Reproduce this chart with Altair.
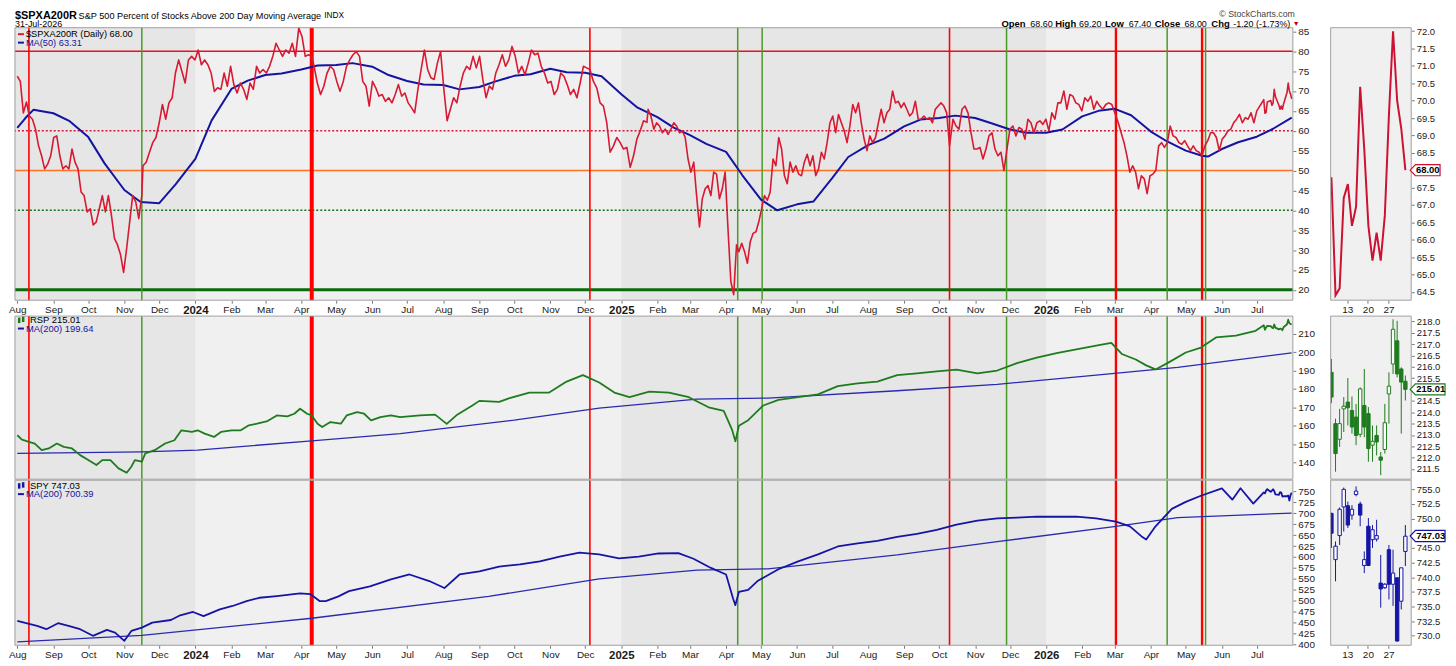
import altair as alt
import pandas as pd

FONT = "Liberation Sans"

# ---------------- values ----------------
# $SPXA200R daily readings, in runs between dated anchor points
pct_runs = [
    ("2023-08-01", "2023-11-16", [
        73.7, 72.4, 64.5, 67.2, 63.7, 62.9, 60.4, 56.2, 53.7, 50.4,
        51.6, 53.7, 58.3, 58.7, 53.7, 50.4, 51.2, 50.4, 55.4, 52.1,
        50.4, 44.6, 43.7, 39.6, 40.4, 36.3, 37.1, 40.4, 43.7, 39.6,
        43.7, 38.7, 32.9, 31.3, 28.8, 24.4, 30.4, 37.1, 43.7, 42.1,
        37.9, 43.7]),
    ("2023-11-17", "2024-04-10", [
        51.2, 52.1, 54.6, 57.0, 58.3, 62.0, 66.6, 62.9, 67.0, 68.3,
        74.5, 77.8, 74.9, 72.0, 77.8, 78.7, 77.8, 80.3, 76.6, 77.8,
        76.6, 74.5, 69.9, 70.8, 70.4, 74.5, 71.2, 76.2, 71.6, 69.5,
        72.0, 70.4, 67.9, 72.0, 70.4, 76.2, 74.5, 75.4, 74.5, 76.2,
        78.7, 82.0, 80.3, 78.7, 80.3, 79.5, 82.0, 78.7, 85.8, 83.7,
        78.7, 79.1, 78.7]),
    ("2024-04-12", "2024-12-05", [
        76.2, 72.0, 69.1, 71.2, 74.5, 76.2, 75.4, 72.4, 69.9, 72.4,
        76.2, 77.8, 79.1, 79.9, 78.7, 72.4, 71.2, 66.2, 72.4, 70.8,
        68.7, 69.1, 67.4, 68.3, 67.0, 69.1, 71.6, 68.7, 69.5, 67.0,
        65.8, 64.5, 70.4, 75.4, 80.3, 75.4, 73.3, 72.9, 77.0, 79.9,
        70.4, 62.5, 65.4, 68.3, 67.0, 71.2, 74.5, 76.2, 75.4, 78.7,
        75.8, 78.7, 72.9, 68.3, 71.2, 70.4, 74.5, 76.6, 79.1, 76.2,
        77.8, 81.2, 78.7, 74.5, 76.2, 74.1, 77.0, 80.3, 79.1, 79.5,
        76.2, 74.5, 72.0, 72.4, 69.1, 70.4, 74.5, 73.7, 71.6, 69.1,
        70.4, 68.3, 72.0, 76.2, 75.8, 75.4]),
    ("2024-12-08", "2025-01-23", [
        72.4, 70.8, 67.0, 66.2, 62.0, 54.6, 56.2, 58.3, 57.0, 55.4,
        55.8, 50.8, 53.7, 57.9, 60.0, 62.5, 62.1]),
    ("2025-01-24", "2025-04-10", [
        65.4, 63.7, 60.4, 62.0, 61.2, 59.5, 60.4, 59.1, 60.4, 62.0,
        61.2, 59.5, 60.0, 58.3, 52.9, 49.6, 52.1, 43.7, 35.8, 42.9,
        45.4, 46.2, 43.7, 49.6, 49.1, 42.9, 45.4, 49.6, 35.4, 22.1,
        18.8, 31.3]),
    ("2025-04-12", "2025-10-10", [
        29.6, 31.7, 29.6, 26.7, 32.1, 34.2, 34.6, 37.1, 40.4, 43.7,
        42.5, 44.6, 52.9, 51.2, 58.3, 55.4, 48.7, 46.7, 52.1, 49.6,
        51.2, 49.1, 48.7, 52.1, 54.1, 51.2, 53.7, 48.7, 50.4, 54.6,
        52.9, 57.0, 62.0, 63.7, 59.5, 64.1, 62.0, 60.0, 57.0, 61.2,
        66.6, 64.5, 67.0, 62.0, 57.9, 55.0, 58.7, 57.0, 58.3, 62.0,
        65.4, 62.0, 64.5, 65.4, 70.0, 67.0, 67.4, 65.8, 67.0, 65.4,
        63.7, 64.5, 67.4, 62.9, 62.9, 63.7, 62.9, 63.3, 62.0, 65.4,
        66.2, 67.0, 66.2, 64.5, 56.2]),
    ("2025-10-13", "2026-03-01", [
        62.9, 61.2, 60.4, 65.4, 66.2, 64.5, 59.5, 55.4, 55.4, 55.8,
        52.9, 55.4, 58.7, 59.5, 55.4, 53.7, 54.6, 50.0, 55.4, 60.4,
        61.2, 58.7, 60.8, 60.4, 57.9, 62.9, 62.0, 59.5, 62.0, 62.5,
        61.6, 62.9, 60.0, 64.5, 62.9, 67.0, 67.0, 70.0, 65.4, 69.1,
        68.7, 67.0, 66.6, 65.0, 68.3, 67.4, 68.7, 65.4, 67.4, 66.2,
        65.4, 66.6, 67.0, 66.6, 64.5]),
    ("2026-03-04", "2026-07-01", [
        62.0, 59.5, 57.0, 53.7, 49.6, 51.2, 49.6, 45.4, 48.7, 47.9,
        44.2, 48.7, 49.1, 50.0, 56.2, 57.0, 55.8, 57.0, 61.2, 58.7,
        58.3, 57.0, 56.6, 57.5, 56.2, 55.0, 56.2, 55.0, 54.6, 53.7,
        56.2, 57.5, 59.5, 59.5, 58.3, 55.0, 57.9, 58.7, 60.0, 60.4,
        62.0, 62.9, 64.1, 62.0, 63.3, 62.9, 64.5, 62.0, 65.0]),
]

# last 19 sessions (zoom panels)
zoom_days = ["2026-07-07", "2026-07-08", "2026-07-09", "2026-07-10", "2026-07-13",
             "2026-07-14", "2026-07-15", "2026-07-16", "2026-07-17", "2026-07-20",
             "2026-07-21", "2026-07-22", "2026-07-23", "2026-07-24", "2026-07-27",
             "2026-07-28", "2026-07-29", "2026-07-30", "2026-07-31"]
zoom_pct = [67.8, 64.4, 64.6, 67.2, 67.6, 66.4, 66.95, 70.4, 68.6, 66.4,
            65.4, 66.2, 65.4, 66.7, 69.6, 72.0, 70.0, 69.2, 68.0]

rsp_open = [215.76, 213.5, 212.81, 214.15, 214.45, 214.08, 213.79, 213.03, 214.3, 213.94,
            212.55, 212.98, 212.03, 212.36, 214.81, 216.13, 217.15, 215.91, 215.37]
rsp_high = [216.35, 213.72, 214.15, 214.67, 215.51, 214.7, 214.37, 215.1, 215.91, 214.23,
            213.42, 213.42, 212.25, 214.37, 215.76, 218.1, 218.03, 215.98, 215.62]
rsp_low = [214.4, 211.38, 212.47, 213.13, 213.42, 213.06, 212.55, 212.9, 212.9, 211.82,
           211.82, 212.1, 211.23, 212.18, 213.5, 215.69, 215.54, 213.06, 214.52]
rsp_close = [214.67, 212.18, 213.5, 214.27, 214.2, 213.35, 212.98, 215.03, 213.35, 212.4,
             212.72, 212.69, 211.89, 213.54, 215.15, 217.66, 215.69, 215.33, 215.01]

spy_open = [750.9, 743.0, 747.1, 752.0, 752.2, 750.6, 754.1, 752.5, 742.0, 748.7,
            746.4, 746.5, 739.0, 738.2, 744.7, 738.8, 739.9, 735.9, 744.4]
spy_high = [751.0, 746.1, 751.9, 755.3, 752.9, 752.3, 755.5, 752.9, 744.4, 750.1,
            748.9, 749.8, 743.8, 739.0, 745.5, 744.7, 739.9, 741.6, 748.9]
spy_low = [745.0, 739.3, 745.5, 747.8, 748.4, 749.8, 753.8, 748.7, 740.7, 741.9,
           745.0, 746.1, 734.8, 738.0, 736.2, 735.1, 729.0, 734.5, 741.9]
spy_close = [747.5, 745.3, 751.6, 755.0, 748.9, 751.6, 754.7, 750.6, 743.0, 742.0,
             748.1, 747.1, 738.0, 738.8, 738.8, 740.7, 729.1, 741.6, 747.0]

ma50_dates = ["2023-08-01", "2023-08-08", "2023-08-15", "2023-09-01", "2023-09-15", "2023-10-01",
              "2023-10-15", "2023-11-01", "2023-11-15", "2023-12-01", "2023-12-15", "2024-01-01",
              "2024-01-15", "2024-02-01", "2024-02-15", "2024-03-01", "2024-03-15", "2024-04-01",
              "2024-04-15", "2024-05-01", "2024-05-15", "2024-06-01", "2024-06-15", "2024-07-01",
              "2024-07-15", "2024-08-01", "2024-08-15", "2024-09-01", "2024-09-15", "2024-10-01",
              "2024-10-15", "2024-11-01", "2024-11-15", "2024-12-01", "2024-12-15", "2025-01-01",
              "2025-01-15", "2025-02-01", "2025-02-15", "2025-03-01", "2025-03-15", "2025-04-01",
              "2025-04-15", "2025-05-01", "2025-05-15", "2025-06-01", "2025-06-15", "2025-07-01",
              "2025-07-15", "2025-08-01", "2025-08-15", "2025-09-01", "2025-09-15", "2025-10-01",
              "2025-10-15", "2025-11-01", "2025-11-15", "2025-12-01", "2025-12-15", "2026-01-01",
              "2026-01-15", "2026-02-01", "2026-02-15", "2026-03-01", "2026-03-15", "2026-04-01",
              "2026-04-15", "2026-05-01", "2026-05-15", "2026-05-20", "2026-06-01", "2026-06-15",
              "2026-07-01", "2026-07-15", "2026-07-31"]
ma50_vals = [60.7, 63.2, 65.3, 64.4, 62.4, 58.4, 51.8, 45.1, 42.1, 41.8, 46.5, 52.9,
             62.6, 70.5, 72.6, 74.0, 74.4, 75.4, 76.4, 76.5, 77.0, 76.1, 74.0, 72.5,
             71.6, 71.5, 70.4, 71.0, 72.4, 73.8, 74.2, 75.6, 74.7, 74.6, 73.7, 69.2,
             65.8, 63.4, 60.8, 58.9, 56.7, 54.7, 48.8, 42.7, 40.0, 41.5, 42.2, 48.0,
             53.4, 56.4, 58.0, 61.1, 62.8, 63.2, 63.8, 63.2, 61.9, 60.3, 59.5, 59.5,
             60.3, 63.6, 65.0, 65.5, 63.9, 59.8, 57.3, 55.0, 53.7, 53.5, 55.4, 57.1,
             58.5, 60.5, 63.3]

rsp_dates = ["2023-08-01", "2023-08-05", "2023-08-11", "2023-08-16", "2023-08-22", "2023-08-28",
             "2023-09-04", "2023-09-10", "2023-09-17", "2023-09-24", "2023-10-01", "2023-10-08",
             "2023-10-13", "2023-10-20", "2023-10-27", "2023-11-03", "2023-11-07", "2023-11-10",
             "2023-11-16", "2023-11-19", "2023-11-27", "2023-12-06", "2023-12-14", "2023-12-20",
             "2023-12-29", "2024-01-03", "2024-01-09", "2024-01-17", "2024-01-23", "2024-02-01",
             "2024-02-09", "2024-02-16", "2024-02-23", "2024-03-03", "2024-03-11", "2024-03-20",
             "2024-03-26", "2024-03-31", "2024-04-06", "2024-04-10", "2024-04-15", "2024-04-19",
             "2024-04-26", "2024-05-05", "2024-05-10", "2024-05-19", "2024-05-25", "2024-05-31",
             "2024-06-08", "2024-06-17", "2024-06-25", "2024-07-12", "2024-07-25", "2024-08-04",
             "2024-08-13", "2024-08-26", "2024-09-01", "2024-09-18", "2024-09-27", "2024-10-14",
             "2024-10-31", "2024-11-15", "2024-11-29", "2024-12-13", "2024-12-26", "2025-01-08",
             "2025-01-25", "2025-02-11", "2025-02-28", "2025-03-17", "2025-03-30", "2025-04-06",
             "2025-04-09", "2025-04-12", "2025-04-20", "2025-05-03", "2025-05-16", "2025-06-02",
             "2025-06-19", "2025-07-06", "2025-07-23", "2025-08-09", "2025-08-26", "2025-09-12",
             "2025-09-29", "2025-10-16", "2025-11-03", "2025-11-20", "2025-12-07", "2025-12-24",
             "2026-01-10", "2026-01-27", "2026-02-13", "2026-02-26", "2026-03-07", "2026-03-19",
             "2026-03-28", "2026-04-05", "2026-04-16", "2026-05-01", "2026-05-14", "2026-05-27",
             "2026-06-13", "2026-06-30"]
rsp_vals = [154.8, 152.4, 151.2, 150.3, 146.7, 147.6, 150.3, 148.5, 147.6, 144.0, 141.3, 138.6,
            141.3, 141.3, 136.8, 134.4, 137.7, 141.3, 140.4, 144.9, 146.7, 150.3, 152.1, 157.5,
            156.6, 157.5, 155.7, 153.9, 156.6, 157.5, 157.5, 160.2, 161.1, 162.5, 165.6, 165.1,
            166.5, 169.2, 166.5, 165.6, 161.1, 159.3, 162.0, 161.1, 165.6, 167.4, 166.5, 162.9,
            164.7, 165.6, 164.7, 165.6, 166.0, 161.0, 166.0, 171.0, 173.5, 173.0, 175.0, 178.0,
            178.0, 184.0, 187.5, 183.5, 178.0, 175.5, 178.5, 178.0, 175.5, 170.0, 168.0, 158.0,
            151.5, 160.0, 163.0, 171.0, 174.0, 175.5, 177.0, 181.5, 183.0, 184.0, 187.5, 188.5,
            189.5, 190.5, 188.5, 190.0, 194.0, 197.0, 199.5, 201.5, 203.5, 205.0, 199.0, 196.0,
            192.8, 190.6, 194.3, 199.8, 202.5, 208.0, 209.0, 211.6]
rsp_ma_dates = ["2023-08-01", "2023-11-16", "2024-01-03", "2024-04-10", "2024-06-25", "2024-10-01",
                "2024-12-13", "2025-03-07", "2025-05-07", "2025-08-26", "2025-11-20", "2026-02-13",
                "2026-04-24", "2026-07-31"]
rsp_ma_vals = [144.9, 145.8, 146.7, 151.8, 155.7, 163.0, 169.5, 174.5, 175.0, 179.0, 182.5,
               187.5, 191.7, 199.64]

spy_dates = ["2023-08-01", "2023-08-18", "2023-08-26", "2023-09-05", "2023-09-14", "2023-09-24",
             "2023-10-05", "2023-10-17", "2023-10-24", "2023-11-01", "2023-11-07", "2023-11-16",
             "2023-11-25", "2023-12-11", "2023-12-19", "2023-12-30", "2024-01-08", "2024-01-22",
             "2024-02-02", "2024-02-14", "2024-02-25", "2024-03-11", "2024-03-31", "2024-04-09",
             "2024-04-17", "2024-04-22", "2024-05-03", "2024-05-12", "2024-05-30", "2024-06-17",
             "2024-07-03", "2024-07-20", "2024-08-02", "2024-08-15", "2024-09-01", "2024-09-18",
             "2024-10-06", "2024-10-23", "2024-11-09", "2024-11-26", "2024-12-13", "2024-12-30",
             "2025-01-16", "2025-02-02", "2025-02-19", "2025-03-04", "2025-03-19", "2025-04-01",
             "2025-04-07", "2025-04-09", "2025-04-12", "2025-04-20", "2025-04-28", "2025-05-16",
             "2025-06-02", "2025-06-19", "2025-07-06", "2025-07-23", "2025-08-09", "2025-08-26",
             "2025-09-12", "2025-09-29", "2025-10-16", "2025-11-03", "2025-11-20", "2025-12-07",
             "2025-12-24", "2026-01-10", "2026-01-27", "2026-02-13", "2026-03-02", "2026-03-14",
             "2026-03-24", "2026-03-28", "2026-04-05", "2026-04-19", "2026-05-01", "2026-05-14",
             "2026-06-01", "2026-06-10", "2026-06-17", "2026-06-28"]
spy_vals = [453.9, 442.5, 435.0, 448.6, 442.5, 435.0, 419.8, 433.4, 427.3, 408.4, 431.0, 438.6,
            450.0, 456.0, 466.8, 474.3, 465.0, 480.4, 488.0, 499.3, 506.8, 510.7, 517.0, 515.0,
            499.0, 499.0, 510.0, 522.0, 533.0, 549.0, 560.0, 545.0, 529.0, 560.0, 567.0, 578.0,
            583.0, 590.0, 601.0, 610.0, 606.0, 597.0, 601.0, 608.0, 609.0, 596.0, 575.0, 560.0,
            505.0, 490.0, 520.0, 525.0, 545.0, 572.0, 590.0, 606.0, 624.0, 631.0, 637.0, 646.0,
            653.0, 662.0, 674.0, 683.0, 688.0, 690.0, 692.0, 692.0, 692.0, 688.0, 681.0, 670.0,
            647.0, 640.0, 670.0, 710.0, 726.0, 740.0, 757.0, 731.0, 757.0, 722.0]
spy_ma_dates = ["2023-08-01", "2023-11-16", "2024-04-10", "2024-09-09", "2024-12-13", "2025-03-07",
                "2025-05-07", "2025-08-26", "2025-11-20", "2026-03-02", "2026-04-24", "2026-07-31"]
spy_ma_vals = [406.0, 421.0, 460.0, 510.0, 550.0, 570.0, 573.0, 605.0, 635.0, 670.0, 690.0, 700.39]

red_signal_dates = ["2023-08-11", "2024-12-05", "2025-10-10"]
red_signal2_dates = ["2026-03-02", "2026-05-15"]
red_major_dates = ["2024-04-10"]
green_signal_dates = ["2023-11-16", "2025-04-11", "2025-05-02", "2025-11-28", "2026-04-15", "2026-05-18"]

shade_start = ["2023-07-30", "2025-01-01"]
shade_end = ["2024-01-01", "2026-01-01"]

# ---------------- tables ----------------
rows = []
for start, end, vals in pct_runs:
    for d, v in zip(pd.date_range(start, end, periods=len(vals)), vals):
        rows.append({"date": d, "v": v})
for d, v in zip(zoom_days, zoom_pct):
    rows.append({"date": pd.Timestamp(d), "v": v})
pct_df = pd.DataFrame(rows)
ma50_df = pd.DataFrame({"date": pd.to_datetime(ma50_dates), "v": ma50_vals})
rsp_df = pd.DataFrame({"date": pd.to_datetime(rsp_dates + zoom_days), "v": rsp_vals + rsp_close})
rsp_ma_df = pd.DataFrame({"date": pd.to_datetime(rsp_ma_dates), "v": rsp_ma_vals})
spy_df = pd.DataFrame({"date": pd.to_datetime(spy_dates + zoom_days), "v": spy_vals + spy_close})
spy_ma_df = pd.DataFrame({"date": pd.to_datetime(spy_ma_dates), "v": spy_ma_vals})
shade_df = pd.DataFrame({"start": pd.to_datetime(shade_start), "end": pd.to_datetime(shade_end)})
zoom_pct_df = pd.DataFrame({"day": zoom_days, "v": zoom_pct})
rsp_c = pd.DataFrame({"day": zoom_days, "open": rsp_open, "high": rsp_high, "low": rsp_low, "close": rsp_close})
spy_c = pd.DataFrame({"day": zoom_days, "open": spy_open, "high": spy_high, "low": spy_low, "close": spy_close})
ONE = pd.DataFrame({"k": [0]})

# ---------------- styling ----------------
W, WS = 1285, 81
HT, HP = 289, 274
HM, HB = 164, 166
BG, BG_DARK, BORDER = "#f0f0f0", "#e6e6e6", "#a0a0a0"
RED_LINE, MA_BLUE = "#d71932", "#1414a0"
SIG_RED, SIG_GREEN = "#ff0000", "#4a9a28"
RSP_GREEN, SPY_BLUE = "#1e7b1e", "#1515a5"

month_ticks = [alt.DateTime(year=d.year, month=d.month, date=1)
               for d in pd.date_range("2023-08-01", "2026-07-01", freq="MS")]
xscale = alt.Scale(domain=[alt.DateTime(year=2023, month=7, date=30),
                           alt.DateTime(year=2026, month=8, date=1)])


def xaxis(offset=0):
    return alt.Axis(values=month_ticks, title=None, tickSize=3, labelPadding=1,
                    labelFlush=False, labelOverlap=False, offset=offset,
                    labelExpr="month(datum.value) == 0 ? timeFormat(datum.value, '%Y') : timeFormat(datum.value, '%b')",
                    labelFontWeight={"condition": {"test": "month(datum.value) == 0", "value": "bold"}, "value": "normal"},
                    labelFontSize={"condition": {"test": "month(datum.value) == 0", "value": 11.5}, "value": 10})


AX_TOP, AX_BOT = xaxis(-(HT - HP)), xaxis(0)


def X(field, axis):
    return alt.X(f"{field}:T", scale=xscale, axis=axis)


def yaxis(values, fmt="d", size=10):
    return alt.Axis(orient="right", values=values, format=fmt, title=None, tickSize=3,
                    labelPadding=2, labelOverlap=False, labelFontSize=size)


ys_top = alt.Scale(domain=[17.4, 85.9], range=[HP, 0], zero=False, nice=False)
ay_top = yaxis(list(range(20, 90, 5)))
ys_mid = alt.Scale(domain=[130.9, 219.6], zero=False, nice=False)
ay_mid = yaxis(list(range(140, 230, 10)))
ys_bot = alt.Scale(domain=[398.2, 775.5], zero=False, nice=False)
ay_bot = yaxis(list(range(400, 775, 25)))


def label(text, x, y, size=9.5, weight="normal", color="#000000", align="left"):
    return alt.Chart(pd.DataFrame({"t": [text]})).mark_text(
        align=align, baseline="middle", font=FONT, fontSize=size, fontWeight=weight, color=color
    ).encode(x=alt.value(x), y=alt.value(y), text="t:N")


def dash(x1, x2, y, color, width=2):
    return alt.Chart(ONE).mark_rule(color=color, strokeWidth=width).encode(
        x=alt.value(x1), x2=alt.value(x2), y=alt.value(y))


def box(x1, x2, y1, y2, color):
    return alt.Chart(ONE).mark_rect(color=color).encode(
        x=alt.value(x1), x2=alt.value(x2), y=alt.value(y1), y2=alt.value(y2))


def panel_bg(w, h):
    return box(0, w, 0, h, BG)


def panel_border(w, h):
    return alt.Chart(ONE).mark_rect(filled=False, color=BORDER, strokeWidth=1).encode(
        x=alt.value(0), x2=alt.value(w), y=alt.value(0), y2=alt.value(h))


def shading(axis, h=None):
    enc = dict(x=X("start", axis), x2="end:T")
    if h is not None:
        enc.update(y=alt.value(0), y2=alt.value(h))
    return alt.Chart(shade_df).mark_rect(color=BG_DARK).encode(**enc)


def signals(axis, h=None):
    out = []
    for dates, color, width in [(red_signal_dates, SIG_RED, 1.6), (red_signal2_dates, SIG_RED, 2.4),
                                (red_major_dates, SIG_RED, 4), (green_signal_dates, SIG_GREEN, 1.5)]:
        enc = dict(x=X("date", axis))
        if h is not None:
            enc.update(y=alt.value(0), y2=alt.value(h))
        out.append(alt.Chart(pd.DataFrame({"date": pd.to_datetime(dates)}))
                   .mark_rule(color=color, strokeWidth=width).encode(**enc))
    return out


def hline(v, color, width, dsh=None):
    kw = dict(color=color, strokeWidth=width)
    if dsh:
        kw["strokeDash"] = dsh
    return alt.Chart(ONE).mark_rule(**kw).encode(y=alt.Y(datum=v, scale=ys_top, axis=ay_top))


def series(df, color, width, axis, ys, ay):
    return alt.Chart(df).mark_line(color=color, strokeWidth=width, strokeJoin="round").encode(
        x=X("date", axis), y=alt.Y("v:Q", scale=ys, axis=ay))


R1, R2 = -11.5, -3.4   # header rows (relative to the top plot)
L1, L2 = 6.5, 15       # legend rows inside the top plot

# ---------------- main panels ----------------
top_main = alt.layer(
    panel_bg(W, HP),
    shading(AX_TOP, HP),
    hline(80, "#e8101a", 1.5),
    hline(60, "#d01838", 1.5, [2, 2]),
    hline(50, "#ff7020", 1.5),
    hline(40, "#137013", 1.5, [2, 2]),
    hline(20, "#0b6b0b", 3),
    *signals(AX_TOP, HP),
    series(ma50_df, MA_BLUE, 2, AX_TOP, ys_top, ay_top),
    series(pct_df, RED_LINE, 1.6, AX_TOP, ys_top, ay_top),
    panel_border(W, HP),
    dash(3, 9, L1, RED_LINE), label("$SPXA200R (Daily) 68.00", 11, L1, size=9.3),
    dash(3, 9, L2, MA_BLUE), label("MA(50) 63.31", 11, L2, size=9.3, color=MA_BLUE),
    label("$SPXA200R", 0, R1, size=11, weight="bold"),
    label("S&P 500 Percent of Stocks Above 200 Day Moving Average", 64, R1, size=9.2),
    label("INDX", 311, R1, size=8.3),
    label("31-Jul-2026", 0, R2, size=9),
    label("\u00a9 StockCharts.com", 1287, -13.6, size=8.8, color="#444444", align="right"),
    label("Open", 992, R2, weight="bold"), label("68.60", 1021, R2, size=9),
    label("High", 1046, R2, weight="bold"), label("69.20", 1070, R2, size=9),
    label("Low", 1096, R2, weight="bold"), label("67.40", 1120, R2, size=9),
    label("Close", 1146, R2, weight="bold"), label("68.00", 1176, R2, size=9),
    label("Chg", 1203, R2, weight="bold"), label("-1.20 (-1.73%)", 1225, R2, size=9),
    label("\u25bc", 1285, R2, size=7, color="#c00000"),
).properties(width=W, height=HT)

mid_main = alt.layer(
    panel_bg(W, HM),
    shading(None),
    *signals(None),
    series(rsp_ma_df, "#2a2ab0", 1.3, None, ys_mid, ay_mid),
    series(rsp_df, RSP_GREEN, 1.8, None, ys_mid, ay_mid),
    panel_border(W, HM),
    box(3, 5.5, 1.5, 7, RSP_GREEN), box(7, 9.5, 0.5, 6, RSP_GREEN),
    label("RSP 215.01", 15, 4),
    dash(3, 9, 12.5, MA_BLUE), label("MA(200) 199.64", 11, 12.5, color=MA_BLUE),
).properties(width=W, height=HM)

bot_main = alt.layer(
    panel_bg(W, HB),
    shading(AX_BOT),
    *signals(AX_BOT),
    series(spy_ma_df, "#2a2ab0", 1.3, AX_BOT, ys_bot, ay_bot),
    series(spy_df, SPY_BLUE, 1.8, AX_BOT, ys_bot, ay_bot),
    panel_border(W, HB),
    box(3, 5.5, 3, 8.5, SPY_BLUE), box(7, 9.5, 2, 7.5, SPY_BLUE),
    label("SPY 747.03", 15, 5.5),
    dash(3, 9, 14, MA_BLUE), label("MA(200) 700.39", 11, 14, color=MA_BLUE),
).properties(width=W, height=HB)

# ---------------- zoom panels (last 19 sessions) ----------------
xs_small = alt.Scale(type="band", domain=zoom_days, range=[-1.3, 77.2], paddingInner=0, paddingOuter=0)


def sx(axis_offset=None):
    if axis_offset is None:
        return alt.X("day:O", scale=xs_small, axis=None)
    return alt.X("day:O", scale=xs_small,
                 axis=alt.Axis(values=["2026-07-13", "2026-07-20", "2026-07-27"],
                               labelExpr="substring(datum.value, 8)", labelAngle=0, title=None,
                               tickSize=3, labelPadding=1, offset=axis_offset, labelFontSize=10))


TAG5 = "M -1 0 L -0.65 -0.37 L 1 -0.37 L 1 0.37 L -0.65 0.37 Z"
TAG6 = "M -1 0 L -0.7 -0.32 L 1 -0.32 L 1 0.32 L -0.7 0.32 Z"


def tag(value, color, ys, ay, shape, half):
    d = pd.DataFrame({"v": [value]})
    sym = alt.Chart(d).mark_point(shape=shape, size=(2 * half) ** 2, filled=True, fill="#ffffff",
                                  stroke=color, strokeWidth=1.2, opacity=1).encode(
        x=alt.value(WS - 1 + half), y=alt.Y("v:Q", scale=ys, axis=ay))
    txt = alt.Chart(d).mark_text(font=FONT, fontSize=9.5, fontWeight="bold", color="#000000",
                                 align="center", baseline="middle").encode(
        x=alt.value(WS - 1 + half * 1.18), y=alt.Y("v:Q", scale=ys, axis=ay),
        text=alt.Text("v:Q", format=".2f"))
    return [sym, txt]


ys_s1 = alt.Scale(domain=[64.26, 72.1], range=[HP, 0], zero=False, nice=False)
ay_s1 = yaxis([64.5, 65.0, 65.5, 66.0, 66.5, 67.0, 67.5, 68.5, 69.0, 69.5, 70.0, 70.5, 71.0, 71.5, 72.0],
              fmt=".1f", size=9.5)
ys_s2 = alt.Scale(domain=[211.05, 218.24], zero=False, nice=False)
ay_s2 = yaxis([211.5, 212.0, 212.5, 213.0, 213.5, 214.0, 214.5, 215.5, 216.0, 216.5, 217.0, 217.5, 218.0],
              fmt=".1f", size=9.5)
ys_s3 = alt.Scale(domain=[728.38, 756.56], zero=False, nice=False)
ay_s3 = yaxis([730.0, 732.5, 735.0, 737.5, 740.0, 742.5, 745.0, 750.0, 752.5, 755.0], fmt=".1f", size=9.5)

top_small = alt.layer(
    panel_bg(WS, HP),
    alt.Chart(zoom_pct_df).mark_line(color="#cc1133", strokeWidth=2, clip=True).encode(
        x=sx(-(HT - HP)), y=alt.Y("v:Q", scale=ys_s1, axis=ay_s1)),
    panel_border(WS, HP),
    *tag(68.00, "#cc1133", ys_s1, ay_s1, TAG5, 15),
).properties(width=WS, height=HT)


def candles(df, color, x_enc, ys, ay):
    wick = alt.Chart(df).mark_rule(color=color, strokeWidth=1, clip=True).encode(
        x=x_enc, y=alt.Y("low:Q", scale=ys, axis=ay), y2="high:Q")
    body = alt.Chart(df).mark_bar(width=3.4, stroke=color, strokeWidth=1, clip=True).encode(
        x=x_enc, y=alt.Y("open:Q", scale=ys, axis=ay), y2="close:Q",
        fill=alt.condition("datum.close < datum.open", alt.value(color), alt.value("#ffffff")))
    return [wick, body]


mid_small = alt.layer(
    panel_bg(WS, HM),
    *candles(rsp_c, RSP_GREEN, sx(None), ys_s2, ay_s2),
    panel_border(WS, HM),
    *tag(215.01, RSP_GREEN, ys_s2, ay_s2, TAG6, 17.5),
).properties(width=WS, height=HM)

bot_small = alt.layer(
    panel_bg(WS, HB),
    *candles(spy_c, SPY_BLUE, sx(0), ys_s3, ay_s3),
    panel_border(WS, HB),
    *tag(747.03, SPY_BLUE, ys_s3, ay_s3, TAG6, 17.5),
).properties(width=WS, height=HB)

chart = alt.concat(
    top_main, top_small, mid_main, mid_small, bot_main, bot_small,
    columns=2, spacing={"row": 1, "column": 38}, bounds="flush",
).properties(
    padding=0, background="#ffffff"
).configure_view(
    strokeWidth=0
).configure_axis(
    labelFont=FONT, labelColor="#1a1a1a", tickColor="#777777", grid=False, domain=False
)

chart.save("out.html", embed_options={"renderer": "svg", "actions": False})
